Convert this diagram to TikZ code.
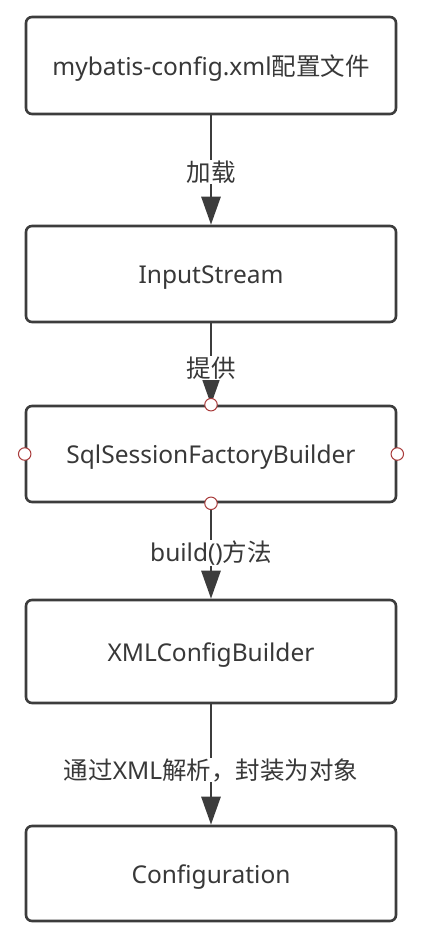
\documentclass[tikz,border=0pt]{standalone}
\usepackage{fontspec}
\setmainfont{Noto Sans}
\newfontfamily\cjk{Noto Sans CJK SC}
\usetikzlibrary{arrows.meta}
\definecolor{boxline}{HTML}{3C3C3C}
\definecolor{txt}{HTML}{383838}
\definecolor{portred}{HTML}{A83A3A}
\tikzset{
  flowbox/.style={draw=boxline, line width=2.6pt, rounded corners=6pt, fill=white,
    minimum width=370pt, text=txt, font=\fontsize{24.5}{28}\selectfont, inner sep=0pt,
    text height=20pt, text depth=0.5pt},
  flowarrow/.style={draw=boxline, line width=2.8pt, -{Triangle[length=28pt,width=19pt]}},
  flowlabel/.style={fill=white, text=txt, font=\fontsize{24.5}{28}\selectfont, inner sep=0.5pt},
  port/.style={circle, draw=portred, fill=white, line width=1pt, minimum size=12.5pt, inner sep=0pt}
}
\begin{document}
\begin{tikzpicture}[x=1pt,y=1pt]
\useasboundingbox (0,0) rectangle (424,-935);
\node[flowbox, minimum height=97pt] (b1) at (211,-65.5) {mybatis-config.xml{\cjk 配置文件}};
\node[flowbox, minimum height=96pt] (b2) at (211,-274) {InputStream};
\node[flowbox, minimum height=96pt] (b3) at (211,-454) {SqlSessionFactoryBuilder};
\node[flowbox, minimum height=103pt] (b4) at (211,-651.5) {XMLConfigBuilder};
\node[flowbox, minimum height=95pt] (b5) at (211,-873.5) {Configuration};

\draw[flowarrow] (b1.south) -- (b2.north);
\draw[flowarrow] (b2.south) -- (b3.north);
\draw[flowarrow] (b3.south) -- (b4.north);
\draw[flowarrow] (b4.south) -- (b5.north);

\node[flowlabel] (l1) at (211,-172) {\cjk 加载};
\node[flowlabel] (l2) at (211,-368) {\cjk 提供};
\node[flowlabel] (l3) at (211,-553) {build(){\cjk 方法}};
\node[flowlabel] (l4) at (211,-770) {{\cjk 通过}XML{\cjk 解析，封装为对象}};

\node[port] (p1) at (b3.north) {};
\node[port] (p2) at (b3.south) {};
\node[port] (p3) at (b3.west) {};
\node[port] (p4) at (b3.east) {};
\end{tikzpicture}
\end{document}
